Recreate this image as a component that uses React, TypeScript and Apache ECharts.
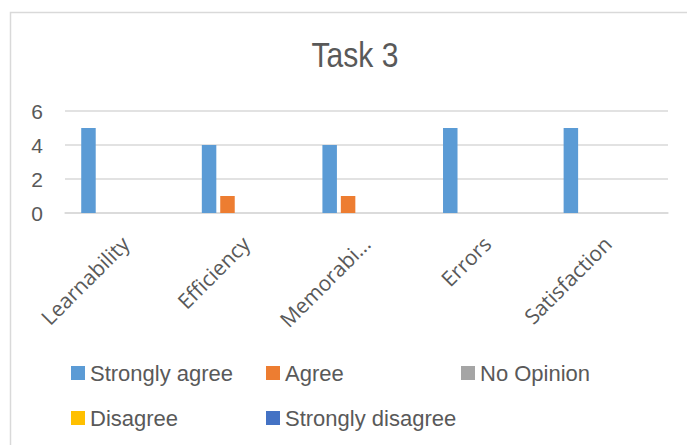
import React, { useEffect, useRef } from "react";
import * as echarts from "echarts";

// Survey responses per usability attribute
const categories = ["Learnability", "Efficiency", "Memorability", "Errors", "Satisfaction"];
const tickLabels = ["Learnability", "Efficiency", "Memorabi...", "Errors", "Satisfaction"];
const seriesNames = ["Strongly agree", "Agree", "No Opinion", "Disagree", "Strongly disagree"];
const stronglyAgree = [5, 4, 4, 5, 5];
const agree = [0, 1, 1, 0, 0];
const noOpinion = [0, 0, 0, 0, 0];
const disagree = [0, 0, 0, 0, 0];
const stronglyDisagree = [0, 0, 0, 0, 0];
const yTicks = { min: 0, max: 6, interval: 2 };
const chartTitle = "Task 3";

const palette = ["#5B9BD5", "#ED7D31", "#A5A5A5", "#FFC000", "#4472C4"];
const seriesValues = [stronglyAgree, agree, noOpinion, disagree, stronglyDisagree];

const legendSlots = [
  { left: 71, top: 362 },
  { left: 266, top: 362 },
  { left: 461, top: 362 },
  { left: 71, top: 407 },
  { left: 266, top: 407 },
];

const TEXT = "#595959";
const SANS = "'Liberation Sans', Arial, sans-serif";

export default function App() {
  const ref = useRef<HTMLDivElement>(null);

  useEffect(() => {
    if (!ref.current) return;
    const chart = echarts.init(ref.current, undefined, { renderer: "svg" });
    chart.setOption({
      animation: false,
      backgroundColor: "#ffffff",
      color: palette,
      graphic: [
        {
          type: "rect",
          shape: { x: 10.5, y: 12.5, width: 720, height: 480 },
          style: { fill: "none", stroke: "#D9D9D9", lineWidth: 1.5 },
          silent: true,
        },
        {
          // condensed title, narrowed horizontally around its centre
          type: "text",
          x: 355,
          y: 55,
          scaleX: 0.86,
          style: {
            text: chartTitle,
            fill: TEXT,
            font: `35px ${SANS}`,
            textAlign: "center",
            textVerticalAlign: "middle",
          },
          silent: true,
        },
      ],
      legend: seriesNames.map((name, i) => ({
        data: [name],
        left: legendSlots[i].left,
        top: legendSlots[i].top,
        padding: 0,
        icon: "rect",
        itemWidth: 14,
        itemHeight: 14,
        itemGap: 0,
        itemStyle: { borderWidth: 0 },
        textStyle: { fontFamily: SANS, fontSize: 22, color: TEXT },
        selectedMode: false,
      })),
      grid: { left: 65, right: 19, top: 111, bottom: 232 },
      xAxis: {
        type: "category",
        data: categories,
        axisLine: { lineStyle: { color: "#D9D9D9", width: 1.5 } },
        axisTick: { show: false },
        axisLabel: {
          rotate: 45,
          interval: 0,
          margin: 27,
          color: TEXT,
          fontFamily: "'Open Sans', sans-serif",
          fontSize: 21,
          formatter: (_v: string, idx: number) => tickLabels[idx],
        },
      },
      yAxis: {
        type: "value",
        min: yTicks.min,
        max: yTicks.max,
        interval: yTicks.interval,
        axisLine: { show: false },
        axisTick: { show: false },
        splitLine: { lineStyle: { color: "#D9D9D9", width: 1.5 } },
        axisLabel: {
          color: TEXT,
          fontFamily: SANS,
          fontSize: 21,
          margin: 22,
        },
      },
      series: seriesNames.map((name, i) => ({
        name,
        type: "bar",
        data: seriesValues[i],
        barWidth: 14.5,
        barGap: "27%",
        itemStyle: { color: palette[i] },
      })),
    });
    return () => chart.dispose();
  }, []);

  return (
    <div
      ref={ref}
      style={{ position: "fixed", left: 0, top: 0, width: 687, height: 445 }}
    />
  );
}
